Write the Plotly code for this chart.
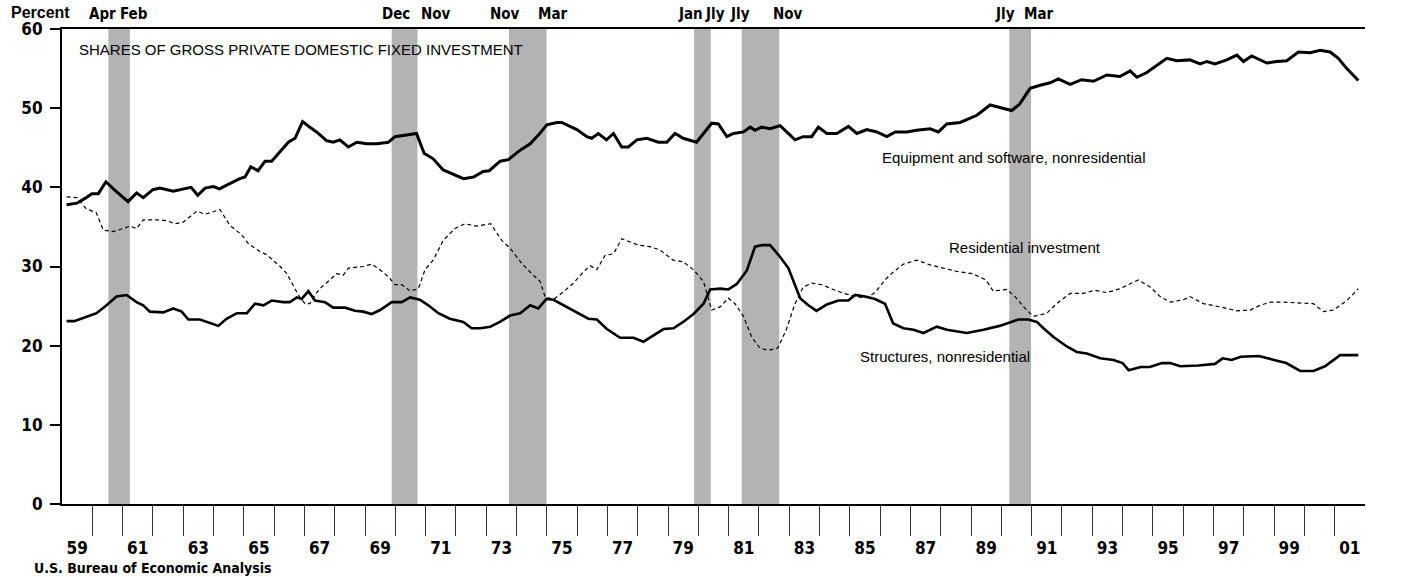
import plotly.graph_objects as go

# ---------------- data (decimal years, percent) ----------------
eq_t = [1959.15, 1959.49, 1959.8, 1959.98, 1960.2, 1960.45, 1960.75, 1961.18, 1961.46, 1961.68,
        1962.0, 1962.23, 1962.67, 1963.1, 1963.26, 1963.48, 1963.72, 1964.0, 1964.2, 1964.55,
        1964.87, 1965.04, 1965.23, 1965.47, 1965.7, 1965.92, 1966.14, 1966.47, 1966.69, 1966.94,
        1967.18, 1967.4, 1967.73, 1967.95, 1968.17, 1968.45, 1968.73, 1969.06, 1969.39, 1969.77,
        1969.99, 1970.32, 1970.7, 1970.95, 1971.25, 1971.58, 1971.91, 1972.25, 1972.58, 1972.9,
        1973.1, 1973.46, 1973.73, 1974.12, 1974.45, 1974.72, 1975.0, 1975.33, 1975.49, 1975.99,
        1976.32, 1976.48, 1976.7, 1976.97, 1977.2, 1977.47, 1977.69, 1977.97, 1978.3, 1978.68,
        1978.96, 1979.23, 1979.5, 1979.94, 1980.17, 1980.44, 1980.66, 1980.94, 1981.16, 1981.49,
        1981.71, 1981.87, 1982.09, 1982.37, 1982.7, 1983.19, 1983.46, 1983.74, 1983.96, 1984.24,
        1984.57, 1984.95, 1985.23, 1985.56, 1985.89, 1986.22, 1986.5, 1986.88, 1987.2, 1987.65,
        1987.92, 1988.2, 1988.64, 1989.19, 1989.63, 1989.96, 1990.34, 1990.6, 1990.95, 1991.28,
        1991.61, 1991.88, 1992.27, 1992.65, 1993.04, 1993.48, 1993.91, 1994.25, 1994.47, 1994.8,
        1995.13, 1995.46, 1995.79, 1996.22, 1996.56, 1996.78, 1997.05, 1997.44, 1997.77, 1997.99,
        1998.26, 1998.76, 1999.09, 1999.42, 1999.8, 2000.19, 2000.52, 2000.85, 2001.12, 2001.4,
        2001.78]
eq_v = [37.8, 38.0, 38.7, 39.2, 39.2, 40.7, 39.6, 38.2, 39.3, 38.7,
        39.7, 39.9, 39.5, 39.9, 40.0, 39.0, 39.9, 40.1, 39.8, 40.5,
        41.1, 41.3, 42.6, 42.1, 43.3, 43.3, 44.3, 45.7, 46.2, 48.3,
        47.6, 47.0, 45.9, 45.7, 46.0, 45.1, 45.7, 45.5, 45.5, 45.7,
        46.4, 46.6, 46.8, 44.3, 43.6, 42.2, 41.7, 41.1, 41.3, 42.0,
        42.1, 43.3, 43.5, 44.7, 45.5, 46.6, 47.9, 48.2, 48.2, 47.3,
        46.4, 46.2, 46.8, 46.0, 46.8, 45.1, 45.1, 46.0, 46.2, 45.7,
        45.7, 46.8, 46.2, 45.7, 46.8, 48.1, 48.0, 46.4, 46.8, 47.0,
        47.6, 47.2, 47.6, 47.4, 47.8, 46.0, 46.4, 46.4, 47.6, 46.8,
        46.8, 47.7, 46.8, 47.3, 47.0, 46.4, 47.0, 47.0, 47.2, 47.4,
        47.0, 48.0, 48.2, 49.1, 50.4, 50.1, 49.7, 50.5, 52.5, 52.9,
        53.2, 53.7, 53.0, 53.6, 53.4, 54.2, 54.0, 54.7, 53.9, 54.5,
        55.4, 56.3, 56.0, 56.1, 55.6, 55.9, 55.6, 56.1, 56.7, 55.9,
        56.6, 55.7, 55.9, 56.0, 57.1, 57.0, 57.3, 57.1, 56.3, 55.0,
        53.5]

res_t = [1959.15, 1959.49, 1959.8, 1960.13, 1960.36, 1960.69, 1961.02, 1961.24, 1961.46, 1961.68,
         1962.13, 1962.45, 1962.73, 1963.0, 1963.45, 1963.72, 1963.9, 1964.21, 1964.54, 1964.93,
         1965.15, 1965.53, 1965.75, 1966.2, 1966.42, 1966.8, 1967.02, 1967.18, 1967.35, 1967.51,
         1967.84, 1968.06, 1968.28, 1968.45, 1968.94, 1969.22, 1969.49, 1969.77, 1969.99, 1970.21,
         1970.49, 1970.76, 1970.98, 1971.25, 1971.58, 1971.97, 1972.3, 1972.68, 1973.15, 1973.51,
         1973.79, 1974.17, 1974.5, 1974.78, 1974.94, 1975.21, 1975.55, 1975.88, 1976.2, 1976.43,
         1976.65, 1976.92, 1977.2, 1977.47, 1977.75, 1978.02, 1978.4, 1978.73, 1979.17, 1979.5,
         1979.84, 1980.17, 1980.44, 1980.72, 1980.99, 1981.21, 1981.49, 1981.76, 1982.03, 1982.3,
         1982.62, 1982.9, 1983.19, 1983.46, 1983.74, 1984.07, 1984.46, 1984.79, 1985.12, 1985.5,
         1985.83, 1986.16, 1986.43, 1986.77, 1987.21, 1987.65, 1988.08, 1988.5, 1989.05, 1989.49,
         1989.73, 1990.18, 1990.45, 1990.78, 1991.06, 1991.5, 1991.82, 1992.27, 1992.71, 1993.09,
         1993.48, 1993.92, 1994.52, 1994.91, 1995.24, 1995.57, 1996.01, 1996.23, 1996.67, 1997.22,
         1997.77, 1998.21, 1998.54, 1998.87, 1999.31, 1999.86, 2000.3, 2000.63, 2000.96, 2001.4,
         2001.78]
res_v = [38.8, 38.7, 37.3, 36.8, 34.6, 34.4, 34.8, 35.1, 34.8, 35.9,
         35.9, 35.8, 35.4, 35.6, 37.0, 36.6, 36.8, 37.2, 35.2, 34.0,
         32.9, 31.9, 31.5, 30.0, 29.1, 26.4, 25.3, 25.3, 26.4, 27.2,
         28.3, 29.1, 28.9, 29.8, 30.0, 30.3, 29.6, 28.7, 27.7, 27.7,
         26.9, 27.2, 29.6, 30.8, 33.3, 34.8, 35.4, 35.1, 35.4, 33.3,
         32.3, 30.4, 29.1, 28.1, 26.2, 25.8, 26.8, 27.9, 29.3, 30.1,
         29.6, 31.4, 31.6, 33.5, 33.1, 32.7, 32.5, 32.1, 30.8, 30.6,
         29.6, 28.1, 24.5, 24.9, 26.0, 25.3, 23.7, 21.1, 19.7, 19.4,
         19.7, 22.0, 25.3, 27.4, 27.9, 27.7, 27.1, 26.6, 26.3, 26.0,
         26.7, 28.3, 29.3, 30.3, 30.8, 30.2, 29.8, 29.4, 29.1, 28.3,
         26.9, 27.1, 26.2, 24.7, 23.7, 24.1, 25.3, 26.6, 26.6, 27.0,
         26.7, 27.2, 28.3, 27.4, 26.2, 25.5, 25.8, 26.2, 25.3, 24.9,
         24.4, 24.5, 25.1, 25.5, 25.5, 25.4, 25.3, 24.3, 24.5, 25.7,
         27.2]

str_t = [1959.15, 1959.4, 1959.7, 1960.14, 1960.47, 1960.8, 1961.13, 1961.46, 1961.68, 1961.9,
         1962.34, 1962.67, 1962.95, 1963.17, 1963.55, 1963.88, 1964.16, 1964.43, 1964.77, 1965.1,
         1965.37, 1965.65, 1965.92, 1966.3, 1966.52, 1966.75, 1966.91, 1967.13, 1967.35, 1967.68,
         1967.95, 1968.34, 1968.67, 1968.94, 1969.22, 1969.5, 1969.88, 1970.21, 1970.49, 1970.81,
         1971.09, 1971.42, 1971.8, 1972.24, 1972.52, 1972.8, 1973.13, 1973.45, 1973.79, 1974.12,
         1974.45, 1974.72, 1974.99, 1975.22, 1975.6, 1975.99, 1976.37, 1976.65, 1976.98, 1977.42,
         1977.86, 1978.19, 1978.52, 1978.85, 1979.18, 1979.5, 1979.84, 1980.17, 1980.39, 1980.72,
         1980.99, 1981.27, 1981.6, 1981.87, 1982.09, 1982.37, 1982.7, 1982.97, 1983.36, 1983.63,
         1983.9, 1984.24, 1984.62, 1984.95, 1985.17, 1985.5, 1985.83, 1986.16, 1986.43, 1986.77,
         1987.1, 1987.43, 1987.87, 1988.2, 1988.86, 1989.41, 1989.94, 1990.29, 1990.56, 1990.89,
         1991.17, 1991.39, 1991.72, 1992.16, 1992.49, 1992.82, 1993.26, 1993.7, 1994.0, 1994.2,
         1994.6, 1994.9, 1995.3, 1995.57, 1995.9, 1996.5, 1997.05, 1997.3, 1997.6, 1997.9,
         1998.5, 1999.0, 1999.4, 1999.86, 2000.3, 2000.68, 2001.18, 2001.78]
str_v = [23.1, 23.1, 23.5, 24.1, 25.1, 26.2, 26.4, 25.5, 25.1, 24.3,
         24.2, 24.7, 24.3, 23.3, 23.3, 22.9, 22.5, 23.4, 24.1, 24.1,
         25.3, 25.1, 25.7, 25.5, 25.5, 26.1, 25.9, 26.9, 25.7, 25.5,
         24.8, 24.8, 24.4, 24.3, 24.0, 24.5, 25.5, 25.5, 26.1, 25.8,
         25.1, 24.1, 23.4, 23.0, 22.2, 22.2, 22.4, 23.0, 23.8, 24.1,
         25.1, 24.7, 25.9, 25.8, 25.0, 24.1, 23.4, 23.3, 22.1, 21.0,
         21.0, 20.5, 21.3, 22.1, 22.2, 23.0, 24.0, 25.3, 27.1, 27.2,
         27.1, 27.8, 29.5, 32.5, 32.7, 32.7, 31.2, 29.8, 26.0, 25.1,
         24.4, 25.2, 25.7, 25.7, 26.4, 26.2, 25.9, 25.3, 22.8, 22.2,
         22.0, 21.6, 22.4, 22.0, 21.6, 22.0, 22.5, 23.0, 23.3, 23.3,
         23.0, 22.2, 21.1, 19.9, 19.2, 19.0, 18.4, 18.2, 17.8, 16.9,
         17.3, 17.3, 17.8, 17.8, 17.4, 17.5, 17.7, 18.4, 18.2, 18.6,
         18.7, 18.2, 17.8, 16.8, 16.8, 17.4, 18.8, 18.8]

# recession shading (start, end) and the month labels printed above the frame
rec_start = [1960.53, 1969.88, 1973.75, 1979.86, 1981.43, 1990.26]
rec_end = [1961.24, 1970.73, 1974.99, 1980.41, 1982.67, 1990.98]
month_labels = ["Apr", "Feb", "Dec", "Nov", "Nov", "Mar", "Jan", "Jly", "Jly", "Nov", "Jly", "Mar"]
month_label_t = [1960.32, 1961.38, 1970.02, 1971.34, 1973.62, 1975.2, 1979.73, 1980.55,
                 1981.38, 1982.96, 1990.12, 1991.24]

year_ticks = list(range(1960, 2002))
year_label_t = [y + 0.5 for y in range(1959, 2002, 2)]
year_label_text = ["%02d" % (y % 100) for y in range(1959, 2002, 2)]
y_ticks = [0, 10, 20, 30, 40, 50, 60]

X_RANGE = [1959.0, 2002.0]

NARROW = "Liberation Sans Narrow, Arial Narrow, DejaVu Sans Condensed, sans-serif"
SANS = "Liberation Sans, Arial, Helvetica, sans-serif"

fig = go.Figure()

fig.add_trace(go.Scatter(x=eq_t, y=eq_v, mode="lines", line=dict(color="black", width=3),
                         name="Equipment and software, nonresidential", showlegend=False))
fig.add_trace(go.Scatter(x=res_t, y=res_v, mode="lines", xaxis="x2",
                         line=dict(color="black", width=1.2, dash="4px,3px"),
                         name="Residential investment", showlegend=False))
fig.add_trace(go.Scatter(x=str_t, y=str_v, mode="lines", line=dict(color="black", width=2.6),
                         name="Structures, nonresidential", showlegend=False))

for s, e in zip(rec_start, rec_end):
    fig.add_shape(type="rect", xref="x", yref="paper", x0=s, x1=e, y0=0, y1=1,
                  fillcolor="#b3b3b3", line=dict(width=0), layer="below")

for lab, t in zip(month_labels, month_label_t):
    fig.add_annotation(x=t, xref="x", y=1, yref="paper", yanchor="middle", yshift=15,
                       text=lab, showarrow=False,
                       font=dict(family=NARROW, size=15, color="black", weight=700))

fig.add_annotation(x=0, xref="paper", y=1, yref="paper", xanchor="right", yanchor="middle",
                   xshift=10, yshift=17, text="Percent", showarrow=False,
                   font=dict(family=SANS, size=16, color="black", weight=700))

fig.add_annotation(x=0, xref="paper", y=0, yref="paper", xanchor="left", yanchor="middle",
                   xshift=-30, yshift=-64, text="U.S. Bureau of Economic Analysis", showarrow=False,
                   font=dict(family=NARROW, size=14, color="black", weight=700))

fig.add_annotation(x=1959.5, y=57.4, xanchor="left", yanchor="middle", showarrow=False,
                   text="SHARES OF GROSS PRIVATE DOMESTIC FIXED INVESTMENT",
                   font=dict(family=SANS, size=15, color="black"))
fig.add_annotation(x=1986.0, y=43.8, xanchor="left", yanchor="middle", showarrow=False,
                   text="Equipment and software, nonresidential",
                   font=dict(family=SANS, size=15, color="black"))
fig.add_annotation(x=1988.2, y=32.4, xanchor="left", yanchor="middle", showarrow=False,
                   text="Residential investment",
                   font=dict(family=SANS, size=15, color="black"))
fig.add_annotation(x=1985.27, y=18.6, xanchor="left", yanchor="middle", showarrow=False,
                   text="Structures, nonresidential",
                   font=dict(family=SANS, size=15, color="black"))

tickfont = dict(family=NARROW, size=17, color="black", weight=700)

fig.update_layout(
    width=1415, height=577,
    margin=dict(l=62, r=50, t=29, b=73, autoexpand=False),
    paper_bgcolor="white", plot_bgcolor="white",
    showlegend=False,
    xaxis=dict(range=X_RANGE, showgrid=False, zeroline=False, automargin=False,
               showline=True, linecolor="black", linewidth=2, mirror=True,
               tickvals=year_ticks, ticks="outside", ticklen=30, tickwidth=1, tickcolor="#333",
               showticklabels=False),
    xaxis2=dict(range=X_RANGE, overlaying="x", anchor="y", side="bottom", automargin=False,
                showgrid=False, zeroline=False, showline=False,
                tickvals=year_label_t, ticktext=year_label_text,
                ticks="outside", ticklen=29, tickcolor="rgba(0,0,0,0)", tickfont=tickfont),
    yaxis=dict(range=[0, 60], showgrid=False, zeroline=False, automargin=False,
               showline=True, linecolor="black", linewidth=2,
               tickvals=y_ticks, ticks="outside", ticklen=10, tickwidth=1.5, tickcolor="black",
               ticklabelstandoff=4, tickfont=tickfont),
    yaxis2=dict(range=[0, 60], overlaying="y", side="right", anchor="x", automargin=False,
                showgrid=False, zeroline=False,
                showline=True, linecolor="black", linewidth=2,
                tickvals=y_ticks, ticks="outside", ticklen=10, tickwidth=1.5, tickcolor="black",
                tickfont=tickfont),
)

fig.write_html("out.html", config={"displayModeBar": False},
               post_script="document.body.style.margin='0px'; document.body.style.overflow='hidden';")
